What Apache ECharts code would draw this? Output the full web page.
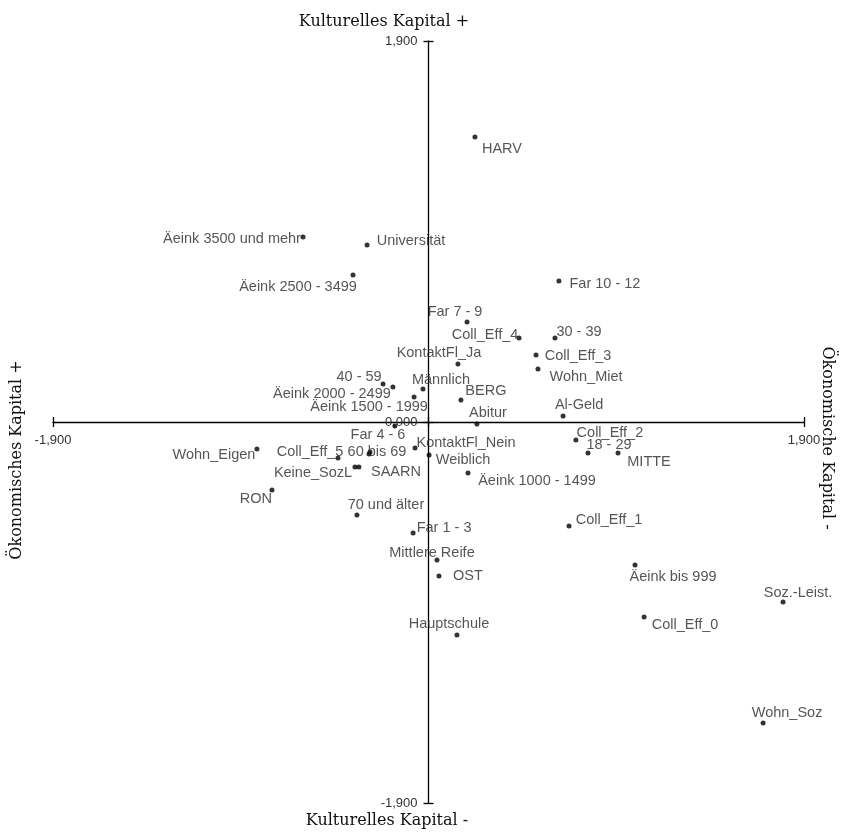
<!DOCTYPE html>
<html><head><meta charset="utf-8">
<script src="https://cdn.jsdelivr.net/npm/echarts@6/dist/echarts.min.js"></script>
<style>html,body{margin:0;padding:0;background:#fff}#chart{width:844px;height:833px}</style>
</head><body><div id="chart"></div>
<script>
const pointNames = ['HARV','Äeink 3500 und mehr','Universität','Äeink 2500 - 3499','Far 10 - 12','Far 7 - 9','Coll_Eff_4','30 - 39','Coll_Eff_3','Wohn_Miet','KontaktFl_Ja','40 - 59','Äeink 2000 - 2499','Männlich','Äeink 1500 - 1999','BERG','Abitur','','Al-Geld','Coll_Eff_2','18 - 29','MITTE','Coll_Eff_5','60 bis 69','Far 4 - 6','KontaktFl_Nein','Weiblich','Äeink 1000 - 1499','Wohn_Eigen','Keine_SozL','SAARN','RON','70 und älter','Far 1 - 3','Coll_Eff_1','Mittlere Reife','OST','Äeink bis 999','Soz.-Leist.','Hauptschule','Coll_Eff_0','Wohn_Soz'];
const xValues = [0.235,-0.635,-0.311,-0.382,0.660,0.195,0.458,0.640,0.544,0.554,0.149,-0.230,-0.180,-0.028,-0.073,0.164,0.245,-0.170,0.681,0.746,0.807,0.959,-0.458,-0.301,-0.296,-0.068,0.003,0.200,-0.868,-0.372,-0.352,-0.792,-0.362,-0.078,0.711,0.043,0.053,1.045,1.794,0.144,1.091,1.693];
const yValues = [1.421,0.923,0.883,0.733,0.703,0.499,0.419,0.419,0.334,0.264,0.289,0.190,0.175,0.165,0.125,0.110,-0.010,-0.020,0.030,-0.090,-0.155,-0.155,-0.180,-0.160,-0.150,-0.130,-0.165,-0.254,-0.135,-0.224,-0.224,-0.339,-0.464,-0.554,-0.519,-0.688,-0.768,-0.713,-0.898,-1.062,-0.973,-1.501];

const axisMin = -1.9, axisMax = 1.9, axisStep = 1.9;
const xTickValues = [-1.9, 1.9];
const xTickLabels = ['-1,900', '1,900'];
const yTickValues = [-1.9, 0, 1.9];
const yTickLabels = ['-1,900', '0,000', '1,900'];

// label centre offsets relative to the dot (placement only)
const labelOffsets = {
  'HARV':[27,12],'Äeink 3500 und mehr':[-71,2],'Universität':[44,-4],'Äeink 2500 - 3499':[-55,12],
  'Far 10 - 12':[46,3],'Far 7 - 9':[-12,-10],'Coll_Eff_4':[-34,-3],'30 - 39':[24,-6],'Coll_Eff_3':[42,1],
  'Wohn_Miet':[48,8],'KontaktFl_Ja':[-19,-11],'40 - 59':[-24,-7],'Äeink 2000 - 2499':[-61,7],'Männlich':[18,-9],
  'Äeink 1500 - 1999':[-45,10],'BERG':[25,-9],'Abitur':[11,-11],'Al-Geld':[16,-11],'Coll_Eff_2':[34,-7],
  '18 - 29':[21,-8],'MITTE':[31,9],'Coll_Eff_5':[-28,-6],'60 bis 69':[8,-2],'Far 4 - 6':[8,-17],
  'KontaktFl_Nein':[51,-5],'Weiblich':[34,5],'Äeink 1000 - 1499':[69,8],'Wohn_Eigen':[-43,6],
  'Keine_SozL':[-42,6],'SAARN':[37,5],'RON':[-16,9],'70 und älter':[29,-10],'Far 1 - 3':[31,-5],
  'Coll_Eff_1':[40,-6],'Mittlere Reife':[-5,-7],'OST':[29,0],'Äeink bis 999':[38,12],'Soz.-Leist.':[15,-9],
  'Hauptschule':[-8,-11],'Coll_Eff_0':[41,8],'Wohn_Soz':[24,-10]
};

function tickText(v, vals, labels) {
  for (let i = 0; i < vals.length; i++) if (Math.abs(v - vals[i]) < 1e-6) return labels[i];
  return '';
}

const data = pointNames.map((n, i) => {
  const off = labelOffsets[n] || [0, 0];
  return {
    name: n,
    value: [xValues[i], yValues[i]],
    label: { show: n !== '', position: 'inside', offset: off, align: 'center', verticalAlign: 'middle' }
  };
});

const W = 844, H = 833;
const gridBox = { left: 53, right: 40, top: 41, bottom: 30 };
const plotW = W - gridBox.left - gridBox.right;
const plotH = H - gridBox.top - gridBox.bottom;
const zeroFrac = (0 - axisMin) / (axisMax - axisMin);
// move the axes from the grid edge onto the zero crossing
const xAxisShift = -plotH * zeroFrac;          // bottom / top axes
const yAxisShift = -plotW * zeroFrac;          // left / right axes

const tickFont = { color: '#333', fontSize: 13, fontFamily: '"Liberation Sans", Arial, sans-serif' };
const lineStyle = { color: '#000', width: 1.3 };

function makeAxis(isX, primary) {
  const vals = isX ? xTickValues : yTickValues;
  const labs = isX ? xTickLabels : yTickLabels;
  return {
    type: 'value', min: axisMin, max: axisMax, interval: axisStep,
    position: isX ? (primary ? 'bottom' : 'top') : (primary ? 'left' : 'right'),
    offset: isX ? xAxisShift : yAxisShift,
    axisLine: { show: primary, onZero: false, lineStyle: lineStyle },
    axisTick: { show: true, length: 5, inside: false, lineStyle: lineStyle },
    axisLabel: primary ? Object.assign({ show: true, margin: isX ? 12 : 11, formatter: v => tickText(v, vals, labs) }, tickFont)
                       : { show: false },
    splitLine: { show: false }
  };
}

const titleFont = '16px "DejaVu Serif", serif';
const chart = echarts.init(document.getElementById('chart'), null, { renderer: 'canvas' });
chart.setOption({
  animation: false,
  backgroundColor: '#fff',
  grid: Object.assign({ containLabel: false }, gridBox),
  xAxis: [makeAxis(true, true), makeAxis(true, false)],
  yAxis: [makeAxis(false, true), makeAxis(false, false)],
  graphic: [
    { type: 'text', x: 384, y: 22, style: { text: 'Kulturelles Kapital +', textAlign: 'center', textVerticalAlign: 'middle', font: titleFont, fill: '#111' } },
    { type: 'text', x: 387, y: 821, style: { text: 'Kulturelles Kapital -', textAlign: 'center', textVerticalAlign: 'middle', font: titleFont, fill: '#111' } },
    { type: 'text', x: 17, y: 460, rotation: Math.PI / 2, style: { text: 'Ökonomisches Kapital +', textAlign: 'center', textVerticalAlign: 'middle', font: titleFont, fill: '#111' } },
    { type: 'text', x: 827, y: 438, rotation: -Math.PI / 2, style: { text: 'Ökonomische Kapital -', textAlign: 'center', textVerticalAlign: 'middle', font: titleFont, fill: '#111' } }
  ],
  series: [{
    type: 'scatter', xAxisIndex: 0, yAxisIndex: 0,
    symbol: 'circle', symbolSize: 5,
    itemStyle: { color: '#000' },
    label: { show: true, formatter: '{b}', color: '#2b2b2b', fontSize: 14.5, fontFamily: '"Liberation Sans", Arial, sans-serif' },
    emphasis: { disabled: true },
    data: data
  }]
});
</script></body></html>
